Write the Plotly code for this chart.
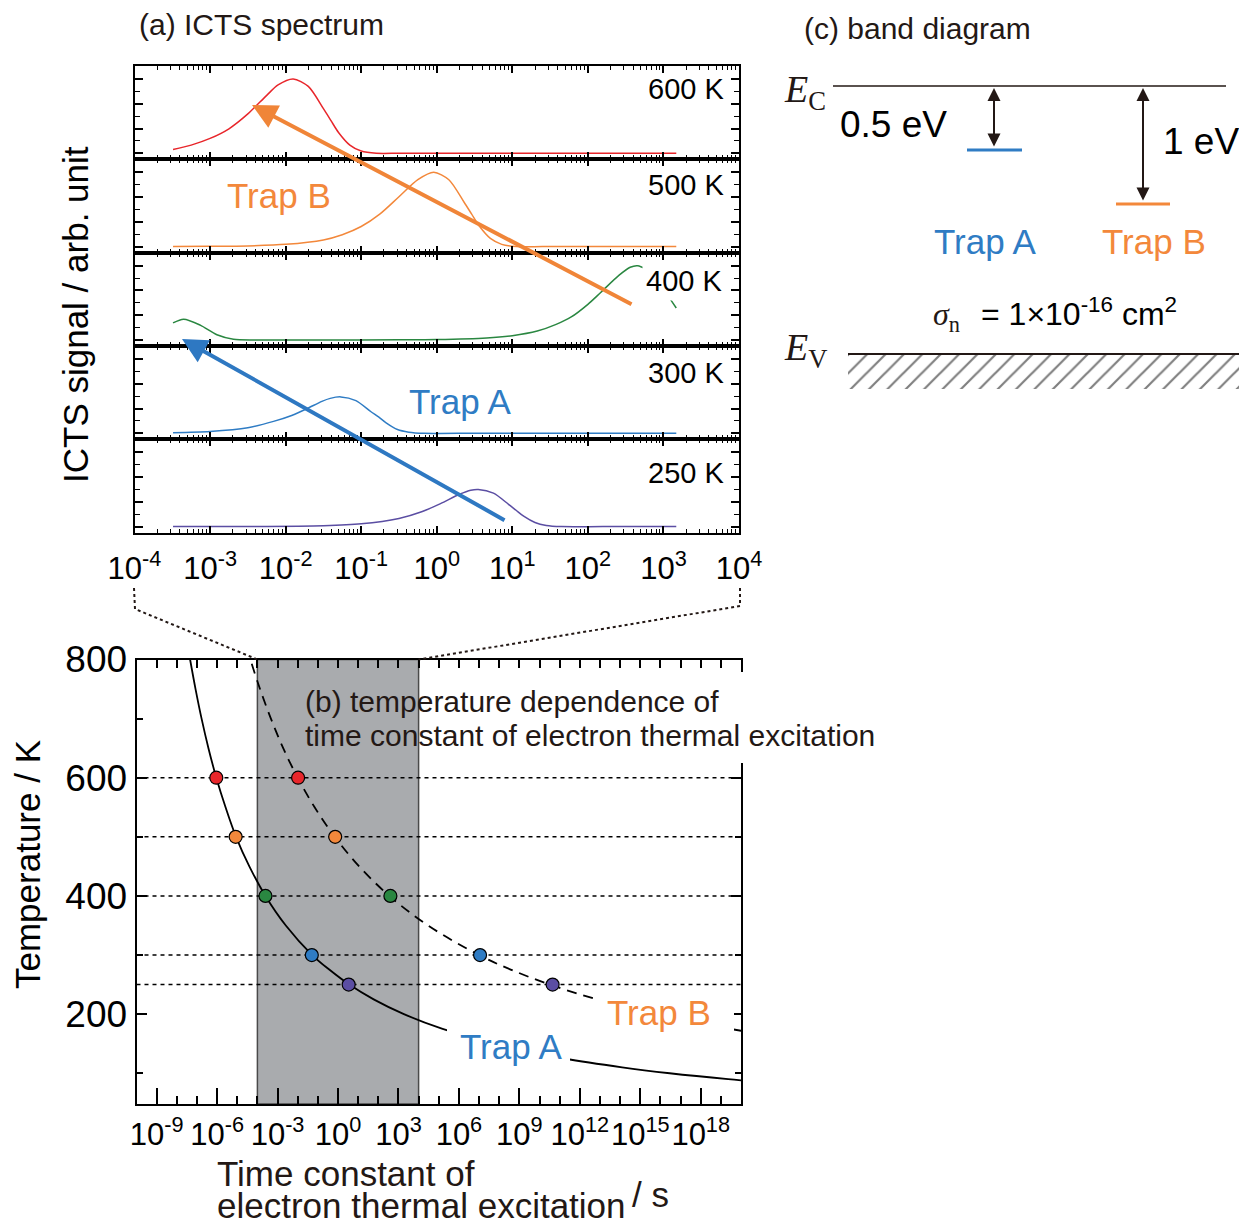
import plotly.graph_objects as go

# The page body keeps its default 8 px margin, so the figure is sized to fill the
# 1247x1227 window from that offset and layout positions are measured accordingly.
OFF = 8
W, H = 1247 - OFF, 1227 - OFF


def px(x):
    return (x - OFF) / W


def py(y):
    return 1 - (y - OFF) / H


FONT = "Liberation Sans, Arial, Helvetica, sans-serif"
SERIF = "Liberation Serif, Times New Roman, serif"
TXT = "#231815"

# ---------------- data: (a) ICTS spectra ----------------
SPEC_LABELS = ["600 K", "500 K", "400 K", "300 K", "250 K"]
SPEC_COLORS = ["#e8262b", "#f3883b", "#2a8741", "#2f7cc4", "#5b4ea3"]

LOGT_600 = [-3.49, -3.25, -3.0, -2.75, -2.5, -2.25, -2.1, -1.9, -1.7, -1.5, -1.4, -1.3, -1.15, -1.0, -0.8, -0.5, 0.0, 1.0, 2.0, 3.17]
SIG_600 = [0.05, 0.11, 0.20, 0.33, 0.53, 0.78, 0.92, 1.0, 0.90, 0.60, 0.44, 0.28, 0.11, 0.03, 0.0, 0.0, 0.0, 0.0, 0.0, 0.0]

LOGT_500 = [-3.49, -3.0, -2.5, -2.0, -1.5, -1.25, -1.0, -0.75, -0.5, -0.25, -0.04, 0.16, 0.36, 0.46, 0.56, 0.71, 0.86, 1.06, 1.4, 2.0, 3.17]
SIG_500 = [0.0, 0.003, 0.009, 0.03, 0.09, 0.16, 0.27, 0.44, 0.67, 0.90, 1.0, 0.90, 0.60, 0.44, 0.28, 0.11, 0.03, 0.0, 0.0, 0.0, 0.0]

LOGT_400 = [-3.49, -3.35, -3.13, -2.91, -2.69, -2.4, -1.5, -0.5, 0.0, 0.66, 1.0, 1.33, 1.58, 1.78, 2.0, 2.17, 2.41, 2.56, 2.66, 2.86, 2.96, 3.06, 3.17]
SIG_400 = [0.23, 0.28, 0.20, 0.07, 0.01, 0.0, 0.0, 0.002, 0.006, 0.027, 0.058, 0.12, 0.21, 0.31, 0.48, 0.64, 0.87, 0.98, 1.0, 0.90, 0.80, 0.60, 0.43]

LOGT_300 = [-3.49, -3.0, -2.5, -2.16, -1.92, -1.72, -1.52, -1.41, -1.27, -1.07, -0.87, -0.77, -0.67, -0.52, -0.37, -0.17, 0.5, 1.5, 2.5, 3.17]
SIG_300 = [0.008, 0.024, 0.074, 0.16, 0.24, 0.33, 0.43, 0.47, 0.49, 0.44, 0.29, 0.22, 0.14, 0.05, 0.015, 0.0, 0.0, 0.0, 0.0, 0.0]

LOGT_250 = [-3.49, -2.5, -1.5, -1.0, -0.5, -0.2, 0.05, 0.3, 0.45, 0.55, 0.75, 0.95, 1.05, 1.15, 1.3, 1.45, 1.65, 2.2, 3.17]
SIG_250 = [0.0, 0.001, 0.012, 0.037, 0.11, 0.20, 0.31, 0.435, 0.49, 0.5, 0.45, 0.30, 0.22, 0.14, 0.055, 0.015, 0.0, 0.0, 0.0]

SPEC_LOGT = [LOGT_600, LOGT_500, LOGT_400, LOGT_300, LOGT_250]
SPEC_SIG = [SIG_600, SIG_500, SIG_400, SIG_300, SIG_250]

A_XTICK_EXP = [-4, -3, -2, -1, 0, 1, 2, 3, 4]
A_XTICK_TEXT = ["10<sup>-4</sup>", "10<sup>-3</sup>", "10<sup>-2</sup>", "10<sup>-1</sup>", "10<sup>0</sup>",
                "10<sup>1</sup>", "10<sup>2</sup>", "10<sup>3</sup>", "10<sup>4</sup>"]

# ---------------- data: (b) time constant vs temperature ----------------
TRAP_A_T = [800, 750, 700, 650, 600, 550, 500, 450, 400, 350, 300, 275, 250, 225, 200, 175, 150, 125, 110, 100, 90, 85]
TRAP_A_LOGTAU = [-7.34, -7.07, -6.77, -6.43, -6.04, -5.58, -5.06, -4.40, -3.60, -2.59, -1.28, -0.42, 0.56, 1.77, 3.27, 5.19, 7.72, 11.24, 14.10, 16.46, 19.36, 21.1]

TRAP_B_T = [820, 800, 750, 700, 650, 600, 550, 500, 450, 400, 350, 300, 275, 250, 225, 200, 190, 180, 170]
TRAP_B_LOGTAU = [-4.53, -4.35, -3.87, -3.33, -2.72, -2.0, -1.16, -0.16, 1.05, 2.55, 4.47, 7.0, 8.60, 10.52, 12.85, 15.75, 17.12, 18.65, 20.34]

MARK_T = [600, 500, 400, 300, 250]
MARK_A_LOGTAU = [-6.04, -5.08, -3.60, -1.30, 0.53]
MARK_B_LOGTAU = [-1.98, -0.14, 2.60, 7.05, 10.65]
MARK_COLORS = ["#e8262b", "#f3883b", "#2a8741", "#2f7cc4", "#5b4ea3"]

WINDOW_S = [1e-4, 1e4]   # measurement window of (a), seconds

B_XTICK_EXP = [-9, -6, -3, 0, 3, 6, 9, 12, 15, 18]
B_XTICK_TEXT = ["10<sup>-9</sup>", "10<sup>-6</sup>", "10<sup>-3</sup>", "10<sup>0</sup>", "10<sup>3</sup>",
                "10<sup>6</sup>", "10<sup>9</sup>", "10<sup>12</sup>", "10<sup>15</sup>", "10<sup>18</sup>"]
B_YTICKS = [200, 400, 600, 800]

# ---------------- figure ----------------
fig = go.Figure()
layout = dict(width=W, height=H, margin=dict(l=0, r=0, t=0, b=0, pad=0, autoexpand=False),
              paper_bgcolor="white", plot_bgcolor="rgba(0,0,0,0)",
              showlegend=False, font=dict(family=FONT, color="black"))

ROW_TOPS = [66, 159.3, 252.7, 346, 439.3]
ROW_H = 93.3
A_X = [134.5, 739]
minor_a = [m * 10.0 ** k for k in range(-4, 4) for m in range(2, 10)]

for i in range(5):
    n = i + 1
    xa = "xaxis" if n == 1 else f"xaxis{n}"
    ya = "yaxis" if n == 1 else f"yaxis{n}"
    top, bot = ROW_TOPS[i], ROW_TOPS[i] + ROW_H
    layout[xa] = dict(domain=[px(A_X[0]), px(A_X[1])], anchor=f"y{n}" if n > 1 else "y",
                      type="log", range=[-4, 4], showline=True, linecolor="black", linewidth=2,
                      mirror="ticks", ticks="inside", ticklen=7, tickwidth=1.5, tickcolor="black",
                      tickmode="array", tickvals=[10.0 ** e for e in A_XTICK_EXP], ticktext=A_XTICK_TEXT,
                      showticklabels=(n == 5), tickfont=dict(size=31, color="black"), tickangle=0,
                      ticklabelstandoff=7,
                      minor=dict(tickmode="array", tickvals=minor_a, ticks="inside", ticklen=4,
                                 tickwidth=1, tickcolor="black", showgrid=False),
                      showgrid=False, zeroline=False, fixedrange=True, automargin=False)
    layout[ya] = dict(domain=[py(bot), py(top)], anchor=f"x{n}" if n > 1 else "x",
                      range=[-0.081, 1.175], showline=True, linecolor="black", linewidth=2,
                      mirror="ticks", ticks="inside", ticklen=8, tickwidth=1.5, tickcolor="black",
                      tickmode="array", tickvals=[0, 1 / 3, 2 / 3, 1], showticklabels=False,
                      minor=dict(tickmode="array", tickvals=[1 / 6, 0.5, 5 / 6], ticks="inside",
                                 ticklen=5, tickwidth=1, tickcolor="black", showgrid=False),
                      showgrid=False, zeroline=False, fixedrange=True, automargin=False)
    fig.add_trace(go.Scatter(x=[10.0 ** v for v in SPEC_LOGT[i]], y=SPEC_SIG[i], mode="lines",
                             line=dict(color=SPEC_COLORS[i], width=1.5, shape="spline", smoothing=0.8),
                             xaxis="x" if n == 1 else f"x{n}", yaxis="y" if n == 1 else f"y{n}",
                             hoverinfo="skip"))

# panel (b)
B_X = [136.5, 741]
B_Y = [659.5, 1104]
layout["xaxis6"] = dict(domain=[px(B_X[0]), px(B_X[1])], anchor="y6", type="log", range=[-10, 20],
                        showline=True, linecolor="black", linewidth=2, ticks="inside", ticklen=16,
                        tickwidth=1.5, tickcolor="black", tickmode="array",
                        tickvals=[10.0 ** e for e in B_XTICK_EXP], ticktext=B_XTICK_TEXT,
                        tickfont=dict(size=31, color="black"), tickangle=0, ticklabelstandoff=2,
                        minor=dict(tickmode="array", tickvals=[10.0 ** e for e in range(-10, 21)],
                                   ticks="inside", ticklen=8, tickwidth=1.5, tickcolor="black", showgrid=False),
                        showgrid=False, zeroline=False, fixedrange=True, automargin=False)
layout["xaxis7"] = dict(overlaying="x6", anchor="y6", side="top", type="log", range=[-10, 20],
                        showline=True, linecolor="black", linewidth=2, ticks="inside", ticklen=8,
                        tickwidth=1.5, tickcolor="black", tickmode="array",
                        tickvals=[10.0 ** e for e in range(-10, 21)], showticklabels=False,
                        showgrid=False, zeroline=False, fixedrange=True, automargin=False)
layout["yaxis6"] = dict(domain=[py(B_Y[1]), py(B_Y[0])], anchor="x6", range=[48, 800],
                        showline=True, linecolor="black", linewidth=2, mirror="ticks", ticks="inside",
                        ticklen=10, tickwidth=1.5, tickcolor="black", tickmode="array",
                        tickvals=B_YTICKS, ticktext=[str(v) for v in B_YTICKS],
                        tickfont=dict(size=37, color="black"),
                        minor=dict(tickmode="array", tickvals=[100, 300, 500, 700], ticks="inside",
                                   ticklen=6, tickwidth=1.5, tickcolor="black", showgrid=False),
                        showgrid=False, zeroline=False, fixedrange=True, automargin=False)

fig.add_trace(go.Scatter(x=[10.0 ** v for v in TRAP_A_LOGTAU], y=TRAP_A_T, mode="lines",
                         line=dict(color="black", width=1.8, shape="spline"),
                         xaxis="x6", yaxis="y6", hoverinfo="skip"))
fig.add_trace(go.Scatter(x=[10.0 ** v for v in TRAP_B_LOGTAU], y=TRAP_B_T, mode="lines",
                         line=dict(color="black", width=1.8, shape="spline", dash="10px,7px"),
                         xaxis="x6", yaxis="y6", hoverinfo="skip"))
for arr in (MARK_A_LOGTAU, MARK_B_LOGTAU):
    fig.add_trace(go.Scatter(x=[10.0 ** v for v in arr], y=MARK_T, mode="markers",
                             marker=dict(size=13, color=MARK_COLORS, line=dict(color="black", width=1.2)),
                             xaxis="x6", yaxis="y6", hoverinfo="skip"))
# anchor trace for top axis
fig.add_trace(go.Scatter(x=[1.0], y=[400], mode="markers", marker=dict(opacity=0),
                         xaxis="x7", yaxis="y6", hoverinfo="skip"))

# hatch region under E_V
layout["xaxis8"] = dict(domain=[px(848), px(1241)], anchor="y8", range=[0, 1], visible=False,
                        fixedrange=True, automargin=False)
layout["yaxis8"] = dict(domain=[py(389), py(355)], anchor="x8", range=[0, 1], visible=False,
                        fixedrange=True, automargin=False)
fig.add_trace(go.Scatter(x=[0, 1, 1, 0, 0], y=[0, 0, 1, 1, 0], mode="lines", fill="toself",
                         line=dict(width=0, color="rgba(0,0,0,0)"),
                         fillpattern=dict(shape="/", size=13, solidity=0.17, fgcolor="black", bgcolor="white"),
                         xaxis="x8", yaxis="y8", hoverinfo="skip"))

shapes = []
# measurement window
shapes.append(dict(type="rect", xref="x6", yref="y6 domain", x0=WINDOW_S[0], x1=WINDOW_S[1], y0=0, y1=1,
                   fillcolor="#a9abae", line=dict(color="#4a4a4a", width=1.5), layer="below"))
# temperature guide lines
for t in MARK_T:
    shapes.append(dict(type="line", xref="x6 domain", yref="y6", x0=0, x1=1, y0=t, y1=t,
                       line=dict(color="black", width=1.5, dash="4px,4px"), layer="below"))
# connectors between (a) and (b)
shapes.append(dict(type="path", xref="paper", yref="paper",
                   path=f"M {px(134)} {py(588)} L {px(135)} {py(609)} L {px(257.5)} {py(659.5)}",
                   line=dict(color=TXT, width=2, dash="3px,3px")))
shapes.append(dict(type="path", xref="paper", yref="paper",
                   path=f"M {px(740)} {py(588)} L {px(740)} {py(606)} L {px(418.5)} {py(659.5)}",
                   line=dict(color=TXT, width=2, dash="3px,3px")))
# white covers (caption outside the window, curve gaps behind labels)
shapes.append(dict(type="rect", xref="paper", yref="paper", x0=px(421), x1=px(900), y0=py(763), y1=py(672),
                   fillcolor="white", line=dict(width=0), layer="above"))
shapes.append(dict(type="rect", xref="paper", yref="paper", x0=px(447), x1=px(570), y0=py(1070), y1=py(1024),
                   fillcolor="white", line=dict(width=0), layer="above"))
shapes.append(dict(type="rect", xref="paper", yref="paper", x0=px(593), x1=px(734), y0=py(1033), y1=py(989),
                   fillcolor="white", line=dict(width=0), layer="above"))
# band diagram
shapes.append(dict(type="line", xref="paper", yref="paper", x0=px(833), x1=px(1226), y0=py(86), y1=py(86),
                   line=dict(color=TXT, width=1.5)))
shapes.append(dict(type="line", xref="paper", yref="paper", x0=px(848), x1=px(1243), y0=py(354), y1=py(354),
                   line=dict(color=TXT, width=2)))
shapes.append(dict(type="line", xref="paper", yref="paper", x0=px(967), x1=px(1022), y0=py(150), y1=py(150),
                   line=dict(color="#2f7cc4", width=3)))
shapes.append(dict(type="line", xref="paper", yref="paper", x0=px(1116), x1=px(1170), y0=py(204), y1=py(204),
                   line=dict(color="#f3883b", width=3)))
layout["shapes"] = shapes

ann = []


def text(x, y, s, size=30, color=TXT, xanchor="left", family=FONT, **kw):
    d = dict(x=px(x), y=py(y), xref="paper", yref="paper", text=s, showarrow=False,
             xanchor=xanchor, yanchor="middle", font=dict(size=size, color=color, family=family))
    d.update(kw)
    ann.append(d)


# (a)
text(137, 24, "(a) ICTS spectrum", 30)
for lab, yy in zip(SPEC_LABELS, [89, 185, 281, 373, 473]):
    if lab == "400 K":
        text(726, yy, lab, 29, "black", xanchor="right", bgcolor="white", borderpad=3)
    else:
        text(726, yy, lab, 29, "black", xanchor="right")
text(225, 196, "Trap B", 35, "#f3883b")
text(407, 401, "Trap A", 35, "#2f7cc4")
text(76, 315, "ICTS signal / arb. unit", 35, "black", xanchor="center", textangle=-90)
# arrows
ann.append(dict(x=px(252), y=py(105), xref="paper", yref="paper", ax=381, ay=200, text="",
                showarrow=True, arrowhead=2, arrowsize=1.25, arrowwidth=4, arrowcolor="#f08538", standoff=0))
ann.append(dict(x=px(182), y=py(339), xref="paper", yref="paper", ax=324, ay=182, text="",
                showarrow=True, arrowhead=2, arrowsize=1.25, arrowwidth=4, arrowcolor="#2e78c2", standoff=0))

# (b)
text(303, 701, "(b) temperature dependence of", 30)
text(303, 735, "time constant of electron thermal excitation", 30)
text(27, 865, "Temperature / K", 35, "black", xanchor="center", textangle=-90)
text(215, 1173, "Time constant of", 35)
text(215, 1205, "electron thermal excitation", 35)
text(630, 1194, "/ s", 35)
text(458, 1046, "Trap A", 35, "#2f7cc4")
text(605, 1012, "Trap B", 35, "#f3883b")

# (c)
text(802, 28, "(c) band diagram", 30)
text(782, 92, "<i>E</i><sub>C</sub>", 38, TXT, family=SERIF)
text(782, 350, "<i>E</i><sub>V</sub>", 38, TXT, family=SERIF)
text(838, 124, "0.5 eV", 37, "black")
text(1161, 141, "1 eV", 37, "black")
text(932, 242, "Trap A", 35, "#2f7cc4")
text(1100, 242, "Trap B", 35, "#f3883b")
text(931, 316, "<i>σ</i><sub>n</sub>", 32, TXT, family=SERIF)
text(979, 312, "= 1×10<sup>-16</sup> cm<sup>2</sup>", 32, "black")
ann.append(dict(x=px(994), y=py(88), xref="paper", yref="paper", ax=0, ay=60, text="",
                showarrow=True, arrowhead=2, startarrowhead=2, arrowside="end+start", arrowsize=1.3,
                startarrowsize=1.3, arrowwidth=2, arrowcolor=TXT, standoff=0, startstandoff=0))
ann.append(dict(x=px(1143), y=py(88), xref="paper", yref="paper", ax=0, ay=114, text="",
                showarrow=True, arrowhead=2, startarrowhead=2, arrowside="end+start", arrowsize=1.3,
                startarrowsize=1.3, arrowwidth=2, arrowcolor=TXT, standoff=0, startstandoff=0))

layout["annotations"] = ann
fig.update_layout(**layout)
fig.write_html("out.html", config={"displayModeBar": False})
